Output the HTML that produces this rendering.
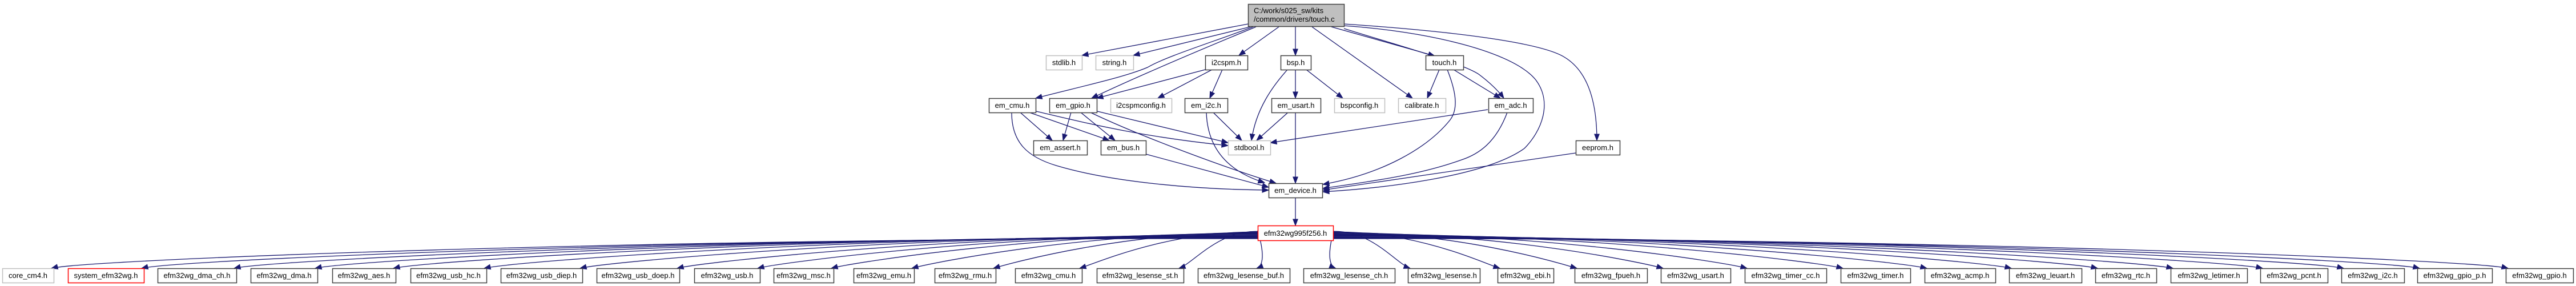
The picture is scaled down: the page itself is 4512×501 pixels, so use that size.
<!DOCTYPE html>
<html><head><meta charset="utf-8">
<style>
html,body{margin:0;padding:0;background:#fff;}
svg{display:block;}
text{font-family:"Liberation Sans",sans-serif;font-size:13px;fill:#000;}
</style></head>
<body>
<svg id="g" width="4512" height="501" viewBox="0 0 4512 501" xmlns="http://www.w3.org/2000/svg">
<g id="edges" fill="none" stroke="#191970" stroke-width="1.3"></g>
<g id="arrows" fill="#191970" stroke="#191970" stroke-width="1"></g>
<g id="nodes" stroke-width="1.5">
<!-- root -->
<rect x="2186.5" y="7.5" width="168" height="39" fill="#bfbfbf" stroke="#404040"/>
<text x="2196" y="23">C:/work/s025_sw/kits</text>
<text x="2196" y="38">/common/drivers/touch.c</text>
</g>
</svg>
<script>
var NS="http://www.w3.org/2000/svg";
var nodesG=document.getElementById('nodes');
function node(x1,x2,y1,y2,label,kind){
  var r=document.createElementNS(NS,'rect');
  r.setAttribute('x',x1+0.5);r.setAttribute('y',y1+0.5);
  r.setAttribute('width',x2-x1);r.setAttribute('height',y2-y1);
  r.setAttribute('fill','#fff');
  r.setAttribute('stroke',kind=='g'?'#bfbfbf':(kind=='r'?'#ff0000':'#404040'));
  nodesG.appendChild(r);
}
// upper nodes [x1,x2,y1,y2,kind]
var up=[
[1832,1895,97,122,'g'],[1919,1985,97,122,'g'],[2111,2185,97,122,''],[2243,2296,97,122,''],[2497,2563,97,122,''],
[1732,1814,172,197,''],[1838,1921,172,197,''],[1945,2052,172,197,'g'],[2075,2150,172,197,''],[2227,2313,172,197,''],
[2337,2425,172,197,'g'],[2449,2532,172,197,'g'],[2607,2685,172,197,''],
[1810,1904,246,271,''],[1928,2007,246,271,''],[2151,2225,246,271,'g'],[2760,2837,246,271,''],
[2222,2316,321,346,''],[2203,2335,395,421,'r']
];
up.forEach(function(n){node(n[0],n[1],n[2],n[3],'',n[4]);});
var bot=[
[4,94,'g'],[119,252,'r'],[276,414],[439,556],[582,693],[719,852],[877,1020],[1045,1190],[1216,1331],[1355,1460],
[1495,1601],[1637,1744],[1778,1895],[1921,2073],[2098,2259],[2283,2443],[2466,2592],[2623,2721],[2758,2885],
[2909,3031],[3056,3199],[3224,3346],[3371,3495],[3519,3646],[3670,3777],[3802,3936],[3959,4077],[4101,4211],
[4234,4365],[4389,4507]
];
bot.forEach(function(n){node(n[0],n[1],470,495,'',n[2]||'');});
</script>
<script>
var NS2="http://www.w3.org/2000/svg";
var eg=document.getElementById('edges'),ag=document.getElementById('arrows');
function e(d){
  var p=document.createElementNS(NS2,'path');p.setAttribute('d',d);eg.appendChild(p);
  var nums=d.match(/-?[\d.]+/g).map(Number);
  var n=nums.length;
  var tx=nums[n-2],ty=nums[n-1],px=nums[n-4],py=nums[n-3];
  var dx=tx-px,dy=ty-py,L=Math.sqrt(dx*dx+dy*dy)||1;dx/=L;dy/=L;
  var bx=tx-dx*11,by=ty-dy*11,nx=-dy*4.2,ny=dx*4.2;
  var a=document.createElementNS(NS2,'polygon');
  a.setAttribute('points',tx+','+ty+' '+(bx+nx)+','+(by+ny)+' '+(bx-nx)+','+(by-ny));
  ag.appendChild(a);
}
e('M2186 42 L1895 97');
e('M2190 47 L1985 97');
e('M2195 47 C2120 75 2040 100 2010 118 C1970 135 1900 150 1814 172');
e('M2200 47 C2120 80 2000 130 1912 172');
e('M2111 122 L1921 172');
e('M2123 122 L2028 172');
e('M2141 122 L2119 172');
e('M2240 47 L2170 97');
e('M2269 47 L2269 97');
e('M2298 47 L2474 172');
e('M2332 47 L2513 98');
e('M2354 50 C2450 80 2560 110 2590 130 C2610 145 2625 160 2634 172');
e('M2354 45 C2500 55 2650 90 2690 140 C2720 180 2700 230 2670 260 C2600 310 2420 330 2317 336');
e('M2354 42 C2550 55 2700 75 2740 100 C2790 130 2797 200 2797 246');
e('M2521 122 L2500 172');
e('M2546 122 L2628 172');
e('M2535 122 C2550 160 2555 190 2540 210 C2500 260 2420 305 2317 323');
e('M2606 192 L2225 250');
e('M2640 197 C2620 250 2590 270 2560 280 C2490 305 2420 315 2317 330');
e('M2760 268 L2317 333');
e('M2255 122 C2230 150 2200 190 2192 246');
e('M2269 122 L2269 172');
e('M2288 122 L2352 172');
e('M2256 197 L2201 246');
e('M2269 197 L2269 321');
e('M2125 197 L2175 246');
e('M2113 197 C2115 260 2150 300 2215 320');
e('M1922 195 L2151 250');
e('M1910 197 C2000 240 2150 295 2235 321');
e('M1876 197 L1862 246');
e('M1893 197 L1953 246');
e('M1787 197 L1843 246');
e('M1803 197 L1943 246');
e('M1815 195 C1900 215 2000 240 2151 255');
e('M1772 197 C1772 250 1800 275 1850 290 C1950 320 2100 332 2222 333');
e('M2007 270 L2222 328');
e('M2269 346 L2269 395');
// bottom fan-out
var bot=[[4,94],[119,252],[276,414],[439,556],[582,693],[719,852],[877,1020],[1045,1190],[1216,1331],[1355,1460],
[1495,1601],[1637,1744],[1778,1895],[1921,2073],[2098,2259],[2283,2443],[2466,2592],[2623,2721],[2758,2885],
[2909,3031],[3056,3199],[3224,3346],[3371,3495],[3519,3646],[3670,3777],[3802,3936],[3959,4077],[4101,4211],
[4234,4365],[4389,4507]];
var CX=2269;
bot.forEach(function(b,i){
  var c=(b[0]+b[1])/2;
  var tip=c+(CX-c)*0.25;
  tip=Math.max(b[0]+4,Math.min(b[1]-4,tip));
  var dist=Math.abs(tip-CX);
  var d;
  if(tip>2215&&tip<2323){
    d='M'+tip+' 421 L'+tip+' 470';
  } else {
    var left=tip<CX;
    var sx=left?2203:2335;
    var sy=404+Math.min(14,dist/150);
    var dir=left?1:-1;
    var k=Math.min(60,20+dist/40);
    d='M'+sx+' '+sy.toFixed(1)+' C'+((sx+tip)/2).toFixed(1)+' '+(sy-2).toFixed(1)+' '+(tip+dir*k).toFixed(1)+' '+(462-Math.min(8,dist/300)).toFixed(1)+' '+tip.toFixed(1)+' 470';
  }
  e(d);
});
</script>
<svg width="0" height="0" style="position:absolute"></svg>
<div style="position:absolute;left:0;top:0;width:4512px;height:501px;pointer-events:none;">
<svg width="4512" height="501" viewBox="0 0 4512 501" xmlns="http://www.w3.org/2000/svg" style="position:absolute;left:0;top:0;">
<g font-family="Liberation Sans, sans-serif" font-size="13" text-anchor="middle" fill="#000">
<text x="1863.5" y="114">stdlib.h</text>
<text x="1952" y="114">string.h</text>
<text x="2148" y="114">i2cspm.h</text>
<text x="2269.5" y="114">bsp.h</text>
<text x="2530" y="114">touch.h</text>
<text x="1773" y="189">em_cmu.h</text>
<text x="1879.5" y="189">em_gpio.h</text>
<text x="1998.5" y="189">i2cspmconfig.h</text>
<text x="2112.5" y="189">em_i2c.h</text>
<text x="2270" y="189">em_usart.h</text>
<text x="2381" y="189">bspconfig.h</text>
<text x="2490.5" y="189">calibrate.h</text>
<text x="2646" y="189">em_adc.h</text>
<text x="1857" y="263">em_assert.h</text>
<text x="1967.5" y="263">em_bus.h</text>
<text x="2188" y="263">stdbool.h</text>
<text x="2798.5" y="263">eeprom.h</text>
<text x="2269" y="338">em_device.h</text>
<text x="2269" y="413">efm32wg995f256.h</text>
</g>
<g font-family="Liberation Sans, sans-serif" font-size="13" text-anchor="middle" fill="#000">
<text x="49" y="487">core_cm4.h</text>
<text x="185.5" y="487">system_efm32wg.h</text>
<text x="345" y="487">efm32wg_dma_ch.h</text>
<text x="497.5" y="487">efm32wg_dma.h</text>
<text x="637.5" y="487">efm32wg_aes.h</text>
<text x="785.5" y="487">efm32wg_usb_hc.h</text>
<text x="948.5" y="487">efm32wg_usb_diep.h</text>
<text x="1117.5" y="487">efm32wg_usb_doep.h</text>
<text x="1273.5" y="487">efm32wg_usb.h</text>
<text x="1407.5" y="487">efm32wg_msc.h</text>
<text x="1548" y="487">efm32wg_emu.h</text>
<text x="1690.5" y="487">efm32wg_rmu.h</text>
<text x="1836.5" y="487">efm32wg_cmu.h</text>
<text x="1997" y="487">efm32wg_lesense_st.h</text>
<text x="2178.5" y="487">efm32wg_lesense_buf.h</text>
<text x="2363" y="487">efm32wg_lesense_ch.h</text>
<text x="2529" y="487">efm32wg_lesense.h</text>
<text x="2672" y="487">efm32wg_ebi.h</text>
<text x="2821.5" y="487">efm32wg_fpueh.h</text>
<text x="2970" y="487">efm32wg_usart.h</text>
<text x="3127.5" y="487">efm32wg_timer_cc.h</text>
<text x="3285" y="487">efm32wg_timer.h</text>
<text x="3433" y="487">efm32wg_acmp.h</text>
<text x="3582.5" y="487">efm32wg_leuart.h</text>
<text x="3723.5" y="487">efm32wg_rtc.h</text>
<text x="3869" y="487">efm32wg_letimer.h</text>
<text x="4018" y="487">efm32wg_pcnt.h</text>
<text x="4156" y="487">efm32wg_i2c.h</text>
<text x="4299.5" y="487">efm32wg_gpio_p.h</text>
<text x="4448" y="487">efm32wg_gpio.h</text>
</g>
</svg>
</div>
</body></html>
